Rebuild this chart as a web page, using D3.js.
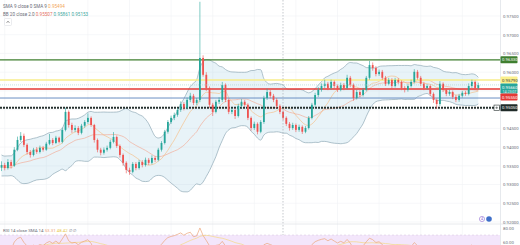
<!DOCTYPE html>
<html><head><meta charset="utf-8">
<script src="https://cdn.jsdelivr.net/npm/d3@7"></script>
<style>
html,body{margin:0;padding:0;background:#fff;overflow:hidden;}
svg{display:block;font-family:Roboto,"Liberation Sans",sans-serif;}
</style></head><body>
<svg id="chart" width="520" height="245"></svg>
<script>
// ── DATA ────────────────────────────────────────────
// closes before the first visible bar (only used to warm up BB / SMA / RSI)
const warmup = [.9360,.9372,.9355,.9340,.9348,.9365,.9380,.9370,.9352,.9338,
                .9330,.9342,.9356,.9368,.9350,.9335,.9328,.9340,.9352,.9345];

const closes = [
  .9352,.9344,.9360,.9350,.9393,.9419,.9430,.9406,.9387,.9379,
  .9393,.9387,.9398,.9393,.9409,.9419,.9411,.9425,.9414,.9446,
  .9494,.9459,.9446,.9451,.9438,.9457,.9467,.9478,.9459,.9419,
  .9393,.9385,.9393,.9398,.9414,.9427,.9403,.9379,.9358,.9339,
  .9334,.9355,.9344,.9360,.9352,.9366,.9358,.9371,.9366,.9393,
  .9411,.9441,.9467,.9478,.9486,.9499,.9515,.9505,.9526,.9537,
  .9518,.9526,.9638,.9593,.9558,.9513,.9494,.9521,.9526,.9566,
  .9526,.9494,.9499,.9483,.9510,.9521,.9513,.9478,.9451,.9462,
  .9441,.9467,.9531,.9547,.9537,.9526,.9510,.9494,.9478,.9462,
  .9451,.9459,.9446,.9454,.9441,.9451,.9478,.9513,.9539,.9553,
  .9563,.9569,.9558,.9574,.9563,.9553,.9566,.9558,.9585,.9566,
  .9531,.9547,.9539,.9553,.9585,.9619,.9611,.9595,.9601,.9585,
  .9569,.9579,.9563,.9579,.9574,.9558,.9553,.9563,.9574,.9601,
  .9585,.9569,.9558,.9563,.9542,.9526,.9515,.9569,.9553,.9542,
  .9547,.9534,.9526,.9537,.9545,.9542,.9563,.9574,.9558,.9566];

const highs = [
  .9362,.9358,.9368,.9366,.9400,.9428,.9440,.9436,.9410,.9392,
  .9398,.9400,.9404,.9403,.9414,.9435,.9424,.9430,.9428,.9452,
  .9505,.9498,.9465,.9458,.9456,.9462,.9472,.9490,.9482,.9462,
  .9423,.9398,.9399,.9404,.9420,.9440,.9431,.9407,.9383,.9362,
  .9345,.9360,.9360,.9366,.9365,.9372,.9371,.9378,.9376,.9398,
  .9416,.9446,.9472,.9484,.9492,.9505,.9522,.9520,.9532,.9545,
  .9542,.9531,.9788,.9645,.9600,.9562,.9518,.9526,.9533,.9574,
  .9570,.9530,.9505,.9504,.9516,.9528,.9526,.9517,.9482,.9468,
  .9466,.9472,.9537,.9556,.9552,.9542,.9531,.9514,.9498,.9482,
  .9467,.9465,.9463,.9460,.9458,.9456,.9483,.9518,.9545,.9560,
  .9570,.9580,.9574,.9580,.9578,.9567,.9572,.9571,.9593,.9590,
  .9570,.9553,.9552,.9558,.9590,.9630,.9626,.9616,.9607,.9606,
  .9590,.9585,.9584,.9585,.9584,.9578,.9563,.9568,.9580,.9608,
  .9606,.9590,.9574,.9568,.9567,.9546,.9530,.9576,.9573,.9557,
  .9553,.9551,.9539,.9542,.9550,.9550,.9570,.9580,.9578,.9572];

const lows = [
  .9336,.9338,.9340,.9343,.9347,.9389,.9414,.9400,.9380,.9372,
  .9375,.9382,.9383,.9388,.9390,.9405,.9405,.9408,.9410,.9410,
  .9442,.9452,.9438,.9440,.9432,.9434,.9452,.9462,.9454,.9412,
  .9386,.9378,.9380,.9388,.9394,.9410,.9398,.9372,.9350,.9330,
  .9326,.9330,.9338,.9340,.9346,.9348,.9352,.9354,.9360,.9362,
  .9388,.9407,.9436,.9462,.9472,.9481,.9494,.9498,.9500,.9520,
  .9512,.9512,.9520,.9588,.9550,.9505,.9483,.9490,.9515,.9520,
  .9520,.9488,.9488,.9475,.9479,.9505,.9507,.9472,.9444,.9446,
  .9434,.9437,.9462,.9526,.9530,.9520,.9504,.9488,.9472,.9456,
  .9444,.9446,.9440,.9441,.9435,.9437,.9447,.9474,.9508,.9534,
  .9548,.9558,.9552,.9553,.9557,.9547,.9549,.9552,.9554,.9560,
  .9524,.9527,.9533,.9535,.9549,.9580,.9604,.9589,.9590,.9579,
  .9563,.9565,.9557,.9559,.9568,.9552,.9546,.9548,.9559,.9570,
  .9580,.9563,.9552,.9553,.9536,.9518,.9502,.9510,.9547,.9536,
  .9537,.9528,.9520,.9521,.9532,.9537,.9538,.9558,.9553,.9554];

// horizontal levels: resistance, yellow, red, blue, support
const levelPrices = [0.9633, 0.9579, 0.9555, 0.9531, 0.9505];
const levelNames  = ['green', 'yellow', 'red', 'blue', 'black'];

const priceTicks = [0.920, 0.925, 0.930, 0.935, 0.940, 0.945, 0.950, 0.955, 0.960, 0.965, 0.970, 0.975];
const rsiTicks   = [60, 80];
const countdown  = '14:23:07';

// ── STYLE ────────────────────────────────────────────
const UP = '#26a69a', DOWN = '#ef5350';
const levelStyle = {
  green:  { stroke: '#3f7f2f', w: 1.2, dash: null,  bg: '#3f7f2f', fg: '#fff', label: true },
  yellow: { stroke: '#f7ec8a', w: 1.6, dash: null,  bg: '#fbf08c', fg: '#333', label: true },
  red:    { stroke: '#e53935', w: 1.6, dash: null,  bg: '#e53935', fg: '#fff', label: true },
  blue:   { stroke: '#6b8fc4', w: 1,   dash: null,  bg: null,      fg: null,   label: false },
  black:  { stroke: '#26312f', w: 1.8, dash: '2,1', bg: '#1f2a28', fg: '#fff', label: true }
};

const W = 520, H = 245, AX = 500, PANE_B = 224;
const svg = d3.select('#chart');
const fmt = d3.format('.5f');

// ── INDICATORS ───────────────────────────────────────
const all = warmup.concat(closes);
const off = warmup.length;
const opens = closes.map((c, i) => i === 0 ? warmup[off - 1] : closes[i - 1]);

function sma(arr, n, k) { return d3.mean(arr.slice(k - n + 1, k + 1)); }
const bb = closes.map((c, i) => {
  const k = i + off, win = all.slice(k - 19, k + 1);
  const m = d3.mean(win), sd = Math.sqrt(d3.mean(win, v => (v - m) * (v - m)));
  return { m, up: m + 2 * sd, lo: m - 2 * sd };
});
const sma9 = closes.map((c, i) => sma(all, 9, i + off));

// RSI 14 (Wilder)
const rsiAll = new Array(all.length).fill(null);
let ag = 0, al = 0;
for (let k = 1; k <= 14; k++) { const d = all[k] - all[k - 1]; ag += Math.max(d, 0); al += Math.max(-d, 0); }
ag /= 14; al /= 14;
rsiAll[14] = 100 - 100 / (1 + ag / al);
for (let k = 15; k < all.length; k++) {
  const d = all[k] - all[k - 1];
  ag = (ag * 13 + Math.max(d, 0)) / 14;
  al = (al * 13 + Math.max(-d, 0)) / 14;
  rsiAll[k] = 100 - 100 / (1 + ag / al);
}
const rsi = closes.map((c, i) => rsiAll[i + off]);
const rsiMa = closes.map((c, i) => {
  const k = i + off; if (k - 13 < 14) return null;
  return d3.mean(rsiAll.slice(k - 13, k + 1));
});

// ── SCALES ───────────────────────────────────────────
const x = d3.scaleLinear().domain([0, closes.length - 1]).range([1.5, 478.3]);
const y = d3.scaleLinear().domain([0.920, 0.975]).range([222, 16]);
const yr = d3.scaleLinear().domain([60, 80]).range([242, 228]);

const defs = svg.append('defs');
defs.append('clipPath').attr('id', 'pane').append('rect').attr('x', 0).attr('y', 0).attr('width', AX).attr('height', PANE_B);
defs.append('clipPath').attr('id', 'rsipane').append('rect').attr('x', 0).attr('y', PANE_B).attr('width', AX).attr('height', H - PANE_B);

// ── GRID ─────────────────────────────────────────────
const grid = svg.append('g');
grid.selectAll('line.h').data(priceTicks).enter().append('line')
  .attr('x1', 0).attr('x2', AX).attr('y1', d => y(d)).attr('y2', d => y(d))
  .attr('stroke', '#f0f2f5').attr('stroke-width', 0.6);
grid.selectAll('line.v').data(d3.range(1, closes.length, 13)).enter().append('line')
  .attr('x1', d => x(d)).attr('x2', d => x(d)).attr('y1', 0).attr('y2', H)
  .attr('stroke', '#f0f2f5').attr('stroke-width', 0.6);

// ── PRICE PANE ───────────────────────────────────────
const pane = svg.append('g').attr('clip-path', 'url(#pane)');

pane.append('path').datum(bb)
  .attr('d', d3.area().x((d, i) => x(i)).y0(d => y(d.lo)).y1(d => y(d.up)).curve(d3.curveMonotoneX))
  .attr('fill', 'rgba(150,200,225,0.22)');
['up', 'lo'].forEach(k => {
  pane.append('path').datum(bb)
    .attr('d', d3.line().x((d, i) => x(i)).y(d => y(d[k])).curve(d3.curveMonotoneX))
    .attr('fill', 'none').attr('stroke', '#8fa9b6').attr('stroke-width', 0.7);
});
pane.append('path').datum(bb)
  .attr('d', d3.line().x((d, i) => x(i)).y(d => y(d.m)).curve(d3.curveMonotoneX))
  .attr('fill', 'none').attr('stroke', '#f3a38c').attr('stroke-width', 0.6);
pane.append('path').datum(sma9)
  .attr('d', d3.line().x((d, i) => x(i)).y(d => y(d)).curve(d3.curveMonotoneX))
  .attr('fill', 'none').attr('stroke', '#f6b97a').attr('stroke-width', 0.6);

// levels
levelPrices.forEach((p, i) => {
  const s = levelStyle[levelNames[i]];
  pane.append('line').attr('x1', 0).attr('x2', AX).attr('y1', y(p)).attr('y2', y(p))
    .attr('stroke', s.stroke).attr('stroke-width', s.w)
    .attr('stroke-dasharray', s.dash);
});

// candles
const cg = pane.append('g');
closes.forEach((c, i) => {
  const o = opens[i], col = c >= o ? UP : DOWN;
  cg.append('line').attr('x1', x(i)).attr('x2', x(i))
    .attr('y1', y(highs[i])).attr('y2', y(lows[i]))
    .attr('stroke', col).attr('stroke-width', 0.6);
  const top = y(Math.max(o, c)), bot = y(Math.min(o, c));
  cg.append('rect').attr('x', x(i) - 0.9).attr('width', 1.8)
    .attr('y', top).attr('height', Math.max(0.6, bot - top)).attr('fill', col);
});

// current price line
const last = closes[closes.length - 1];
pane.append('line').attr('x1', 0).attr('x2', AX).attr('y1', y(last)).attr('y2', y(last))
  .attr('stroke', '#9fd3cd').attr('stroke-width', 0.6).attr('stroke-dasharray', '1,1');

// vertical session marker
svg.append('line').attr('x1', 283).attr('x2', 283).attr('y1', 0).attr('y2', H)
  .attr('stroke', '#a0a4ac').attr('stroke-width', 0.6).attr('stroke-dasharray', '1.5,1.5');

// ── LEGEND ───────────────────────────────────────────
const lg = svg.append('g').attr('font-size', 4.6);
const row1 = lg.append('text').attr('x', 3).attr('y', 7.5);
row1.append('tspan').attr('fill', '#6a6d78').text('SMA 9 close 0 SMA 9 ');
row1.append('tspan').attr('fill', '#f2a65a').text(' ' + fmt(sma9[sma9.length - 1]));
const lb = bb[bb.length - 1];
const row2 = lg.append('text').attr('x', 3).attr('y', 15.5);
row2.append('tspan').attr('fill', '#6a6d78').text('BB 20 close 2.0 ');
row2.append('tspan').attr('fill', '#e57363').text(' ' + fmt(lb.m));
row2.append('tspan').attr('fill', '#3fa7a0').text(' ' + fmt(lb.up));
row2.append('tspan').attr('fill', '#3fa7a0').text(' ' + fmt(lb.lo));
lg.append('rect').attr('x', 4.5).attr('y', 18.5).attr('width', 7).attr('height', 7).attr('rx', 1)
  .attr('fill', '#fff').attr('stroke', '#d6d8de').attr('stroke-width', 0.5);
lg.append('path').attr('d', 'M6.5,23 L8,21 L9.5,23').attr('fill', 'none').attr('stroke', '#555').attr('stroke-width', 0.5);

// icons bottom right of price pane
svg.append('circle').attr('cx', 482).attr('cy', 219).attr('r', 2.6)
  .attr('fill', '#fff').attr('stroke', '#8e6bd1').attr('stroke-width', 0.6);
svg.append('text').attr('x', 482).attr('y', 220.4).attr('text-anchor', 'middle')
  .attr('font-size', 3.6).attr('fill', '#8e6bd1').text('4');
svg.append('circle').attr('cx', 489).attr('cy', 219).attr('r', 2.8).attr('fill', '#3f6fc9');

// ── RSI PANE ─────────────────────────────────────────
svg.append('line').attr('x1', 0).attr('x2', W).attr('y1', PANE_B).attr('y2', PANE_B)
  .attr('stroke', '#e2e4e8').attr('stroke-width', 0.8);
const rp = svg.append('g').attr('clip-path', 'url(#rsipane)');
rp.append('rect').attr('x', 0).attr('width', AX).attr('y', yr(70)).attr('height', H - yr(70))
  .attr('fill', '#f3e6fb');
rp.append('line').attr('x1', 0).attr('x2', AX).attr('y1', yr(70)).attr('y2', yr(70))
  .attr('stroke', '#c9b8d6').attr('stroke-width', 0.4).attr('stroke-dasharray', '2,2');
rp.append('path').datum(rsiMa)
  .attr('d', d3.line().defined(d => d != null).x((d, i) => x(i)).y(d => yr(d)))
  .attr('fill', 'none').attr('stroke', '#f5d76e').attr('stroke-width', 0.6);
rp.append('path').datum(rsi)
  .attr('d', d3.line().x((d, i) => x(i)).y(d => yr(d)))
  .attr('fill', 'none').attr('stroke', '#eda57a').attr('stroke-width', 0.7);

const rl = svg.append('text').attr('x', 3).attr('y', 231.5).attr('font-size', 4.4);
rl.append('tspan').attr('fill', '#6a6d78').text('RSI 14 close SMA 14 ');
rl.append('tspan').attr('fill', '#eda57a').text(' ' + d3.format('.2f')(rsi[rsi.length - 1]));
rl.append('tspan').attr('fill', '#e8c94a').text(' ' + d3.format('.2f')(rsiMa[rsiMa.length - 1]));
rl.append('tspan').attr('fill', '#6a6d78').text('  ∅  ∅');

// ── PRICE TAGS (pushed apart where they collide) ─────
const last_ = last;
const tags = levelPrices.map((p, i) => ({ p, s: levelStyle[levelNames[i]], h: 7 }))
  .filter(t => t.s.label);
tags.push({ p: last_, s: { bg: UP, fg: '#fff' }, h: 10, cur: true });
tags.sort((a, b) => b.p - a.p);
let prevBottom = -Infinity;
tags.forEach(t => {
  let top = t.cur ? y(t.p) - 3.5 : y(t.p) - t.h / 2;
  if (top < prevBottom) top = prevBottom;
  prevBottom = top + t.h;
  t.top = top;
});
const hidden = v => tags.some(t => y(v) > t.top - 2.5 && y(v) < t.top + t.h + 2.5);

// ── RIGHT AXIS ───────────────────────────────────────
svg.append('line').attr('x1', AX + 0.5).attr('x2', AX + 0.5).attr('y1', 0).attr('y2', H)
  .attr('stroke', '#e0e3e8').attr('stroke-width', 0.8);
const ax = svg.append('g').attr('transform', `translate(${AX},0)`)
  .call(d3.axisRight(y).tickValues(priceTicks.filter(v => !hidden(v))).tickFormat(fmt).tickSize(0).tickPadding(3));
ax.select('.domain').remove();
ax.selectAll('text').attr('font-size', 4.3).attr('fill', '#6a6d78').attr('font-family', 'Roboto,"Liberation Sans",sans-serif');

const rax = svg.append('g').attr('transform', `translate(${AX},0)`)
  .call(d3.axisRight(yr).tickValues(rsiTicks).tickFormat(d3.format('.2f')).tickSize(0).tickPadding(3));
rax.select('.domain').remove();
rax.selectAll('text').attr('font-size', 4.3).attr('fill', '#6a6d78').attr('font-family', 'Roboto,"Liberation Sans",sans-serif');

const tg = svg.append('g').attr('font-size', 4.3);
tags.forEach(t => {
  tg.append('rect').attr('x', AX + 0.5).attr('y', t.top).attr('width', 17).attr('height', t.h)
    .attr('rx', 0.8).attr('fill', t.s.bg);
  tg.append('text').attr('x', AX + 2).attr('y', t.top + 5).attr('fill', t.s.fg).text(fmt(t.p));
  if (t.cur) tg.append('text').attr('x', AX + 2.5).attr('y', t.top + 9).attr('font-size', 3.6)
    .attr('fill', '#e6f6f4').text(countdown);
});
// small alert box on the support tag
const sup = tags.find(t => t.s === levelStyle.black);
svg.append('rect').attr('x', AX - 6).attr('y', sup.top + 0.8).attr('width', 5.4).attr('height', 5.4)
  .attr('fill', '#fff').attr('stroke', '#26312f').attr('stroke-width', 0.6);
svg.append('path').attr('d', `M${AX - 4.6},${sup.top + 3.5}h2.6M${AX - 3.3},${sup.top + 2.2}v2.6`)
  .attr('stroke', '#26312f').attr('stroke-width', 0.5);
</script>
</body></html>
